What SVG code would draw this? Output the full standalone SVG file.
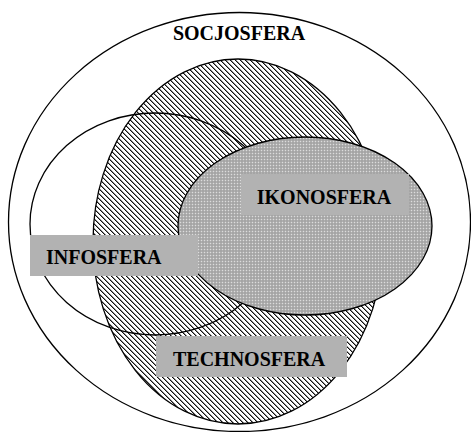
<svg xmlns="http://www.w3.org/2000/svg" width="471" height="432" viewBox="0 0 471 432">
<style>
.outline{stroke:#000;stroke-width:1.3}
.box{fill:#b2b2b2}
.lbl{font-family:"Liberation Serif","Times New Roman",serif;font-weight:bold;font-size:20px;fill:#000}
.hk{fill:#111}
.hg{fill:#8a8a8a}
</style>
<defs>
<pattern id="hatch" patternUnits="userSpaceOnUse" width="5" height="5">
<rect width="5" height="5" fill="#fff"/>
<rect class="hk" x="0" y="0" width="1" height="1"/>
<rect class="hk" x="1" y="1" width="1" height="1"/>
<rect class="hk" x="2" y="2" width="1" height="1"/>
<rect class="hk" x="3" y="3" width="1" height="1"/>
<rect class="hk" x="4" y="4" width="1" height="1"/>
<rect class="hg" x="1" y="0" width="1" height="1"/>
<rect class="hg" x="2" y="1" width="1" height="1"/>
<rect class="hg" x="3" y="2" width="1" height="1"/>
<rect class="hg" x="4" y="3" width="1" height="1"/>
<rect class="hg" x="0" y="4" width="1" height="1"/>
</pattern>
<pattern id="dots" patternUnits="userSpaceOnUse" width="3" height="3">
<rect width="3" height="3" fill="#b0b0b0"/>
<rect x="0" y="0" width="1" height="1" fill="#dcdcdc"/>
<rect x="1.5" y="1.5" width="1" height="1" fill="#858585"/>
</pattern>
</defs>
<rect width="471" height="432" fill="#fff"/>
<g id="socjosfera">
<ellipse cx="239.5" cy="222" rx="231" ry="209.5" fill="#fff" class="outline"/>
<text class="lbl" x="239" y="40" text-anchor="middle">SOCJOSFERA</text>
</g>
<g id="technosfera">
<ellipse cx="238" cy="241.5" rx="145" ry="182.5" fill="url(#hatch)" class="outline"/>
</g>
<g id="infosfera">
<ellipse cx="155" cy="224" rx="125" ry="111" fill="none" class="outline"/>
</g>
<g id="ikonosfera">
<ellipse cx="305" cy="226" rx="127" ry="89" fill="url(#dots)" class="outline"/>
<rect class="box" x="241" y="174" width="168" height="41"/>
<text class="lbl" x="324" y="204" text-anchor="middle">IKONOSFERA</text>
</g>
<g id="infosfera-label">
<rect class="box" x="30" y="235" width="168" height="41"/>
<text class="lbl" x="46" y="264">INFOSFERA</text>
</g>
<g id="technosfera-label">
<rect class="box" x="156" y="336" width="191" height="41"/>
<text class="lbl" x="173" y="366">TECHNOSFERA</text>
</g>
<g id="connectors"/>
</svg>
